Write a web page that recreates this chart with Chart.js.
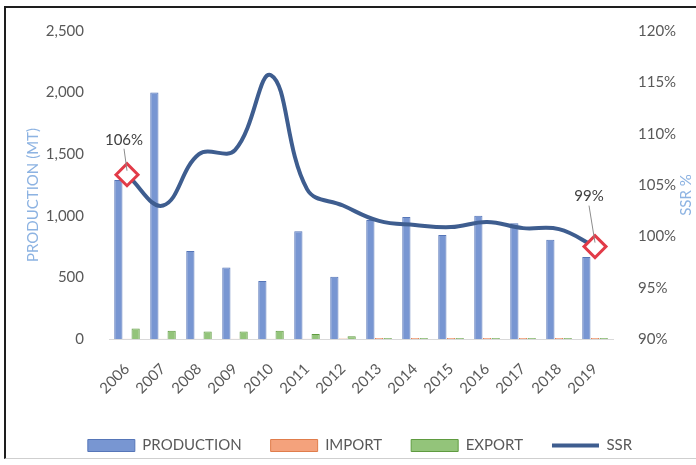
<!DOCTYPE html>
<html>
<head>
<meta charset="utf-8">
<script src="https://cdn.jsdelivr.net/npm/chart.js@4.4.1/dist/chart.umd.min.js"></script>
<style>
  html, body { margin: 0; padding: 0; background: #fff; }
  #wrap { position: relative; width: 696px; height: 465px; }
  #frame {
    position: absolute; left: 4px; top: 6px; width: 700px; height: 453px;
    box-sizing: border-box; pointer-events: none;
    border-left: 2px solid #1e1e1e; border-top: 2px solid #1e1e1e;
    border-bottom: 1px solid #cfcfcf;
  }
</style>
</head>
<body>
<div id="wrap">
  <canvas id="chart" width="696" height="465"></canvas>
  <div id="frame"></div>
</div>
<script>
// Yearly figures
const years = ['2006', '2007', '2008', '2009', '2010', '2011', '2012',
               '2013', '2014', '2015', '2016', '2017', '2018', '2019'];
const production = [1290, 2000, 715, 580, 470, 875, 505, 965, 990, 845, 1000, 940, 805, 665];
const imports    = [3, 3, 3, 3, 3, 3, 4, 8, 8, 8, 8, 8, 8, 8];
const exportsMT  = [85, 67, 60, 60, 67, 40, 22, 8, 8, 8, 8, 8, 8, 8];
const ssr        = [106, 103, 108, 108.4, 115.7, 104.6, 103, 101.5, 101.1, 100.9, 101.4, 100.8, 100.7, 99];

// Axis ranges
const productionAxis = { min: 0, max: 2500, step: 500 };
const ssrAxis = { min: 90, max: 120, step: 5 };

// Axis titles
const leftTitle = 'PRODUCTION (MT)';
const rightTitle = 'SSR %';

// Points of the SSR line that carry a value label
const labelledPoints = [0, ssr.length - 1];

const FONT = "Lato, 'Liberation Sans', Arial, sans-serif";
const TEXT = '#595959';
const TITLE_BLUE = '#8db3e2';
const LINE_BLUE = '#3e5d8f';

// Label placement relative to its point: [dx, dy]
const labelOffsets = { 0: [-3, -35], 13: [-6, -50] };

const axisTitlePlugin = {
  id: 'axisTitles',
  afterDraw(chart) {
    const ctx = chart.ctx;
    ctx.save();
    ctx.font = '15px ' + FONT;
    ctx.fillStyle = TITLE_BLUE;
    ctx.textAlign = 'center';
    ctx.textBaseline = 'middle';
    [[33, 195, leftTitle], [686, 195, rightTitle]].forEach(([x, y, t]) => {
      ctx.save();
      ctx.translate(x, y);
      ctx.rotate(-Math.PI / 2);
      ctx.fillText(t, 0, 0);
      ctx.restore();
    });
    ctx.restore();
  }
};

const pointLabelPlugin = {
  id: 'pointLabels',
  afterDatasetsDraw(chart) {
    const idx = chart.data.datasets.findIndex(d => d.type === 'line');
    const meta = chart.getDatasetMeta(idx);
    const ctx = chart.ctx;
    ctx.save();
    labelledPoints.forEach(i => {
      const pt = meta.data[i];
      const [dx, dy] = labelOffsets[i];
      const lx = pt.x + dx, ly = pt.y + dy;
      ctx.strokeStyle = '#8c8c8c';
      ctx.lineWidth = 1;
      ctx.beginPath();
      ctx.moveTo(lx, ly + 9);
      ctx.lineTo(pt.x, pt.y - 4);
      ctx.stroke();
      ctx.font = '15px ' + FONT;
      ctx.fillStyle = '#404040';
      ctx.textAlign = 'center';
      ctx.textBaseline = 'middle';
      ctx.fillText(Math.round(ssr[i]) + '%', lx, ly);
    });
    ctx.restore();
  }
};

new Chart(document.getElementById('chart'), {
  type: 'bar',
  data: {
    labels: years,
    datasets: [
      {
        label: 'PRODUCTION', data: production, yAxisID: 'y', order: 1,
        backgroundColor: '#7896d2', borderColor: '#5676b8', borderWidth: 1,
        categoryPercentage: 0.72, barPercentage: 0.95
      },
      {
        label: 'IMPORT', data: imports, yAxisID: 'y', order: 1,
        backgroundColor: '#f4a27c', borderColor: '#e07d4c', borderWidth: 1,
        categoryPercentage: 0.72, barPercentage: 0.95
      },
      {
        label: 'EXPORT', data: exportsMT, yAxisID: 'y', order: 1,
        backgroundColor: '#93c47a', borderColor: '#5f9b40', borderWidth: 1,
        categoryPercentage: 0.72, barPercentage: 0.95
      },
      {
        type: 'line', label: 'SSR', data: ssr, yAxisID: 'y1', order: 0,
        borderColor: LINE_BLUE, borderWidth: 4, tension: 0.4, fill: false,
        pointStyle: 'rectRot',
        pointRadius: ssr.map((v, i) => labelledPoints.includes(i) ? 11 : 0),
        pointHoverRadius: 0,
        pointBackgroundColor: '#ffffff', pointBorderColor: '#e23b48', pointBorderWidth: 3
      }
    ]
  },
  options: {
    responsive: false,
    devicePixelRatio: 1,
    animation: false,
    layout: { padding: { top: 31, left: 24, right: 0, bottom: 2 } },
    plugins: {
      tooltip: { enabled: false },
      legend: {
        position: 'bottom',
        labels: {
          usePointStyle: true, pointStyleWidth: 47, boxHeight: 12,
          padding: 29, color: TEXT, font: { family: FONT, size: 15 },
          sort: (a, b) => a.datasetIndex - b.datasetIndex,
          generateLabels(chart) {
            const items = Chart.defaults.plugins.legend.labels.generateLabels(chart);
            items.forEach(it => {
              const ds = chart.data.datasets[it.datasetIndex];
              if (ds.type === 'line') {
                it.pointStyle = 'line';
                it.strokeStyle = ds.borderColor;
                it.lineWidth = 4;
              } else {
                it.pointStyle = 'rect';
                it.fillStyle = ds.backgroundColor;
                it.strokeStyle = ds.borderColor;
                it.lineWidth = 1;
              }
            });
            return items;
          }
        }
      }
    },
    scales: {
      x: {
        grid: { display: false },
        border: { display: true, color: '#d9d9d9' },
        ticks: {
          color: TEXT, font: { family: FONT, size: 15 },
          minRotation: 45, maxRotation: 45, padding: 13, autoSkip: false
        },
        afterFit(scale) {
          const lg = scale.chart.legend;
          scale.height = 465 - 339 - 2 - (lg ? lg.height : 45);
        }
      },
      y: {
        position: 'left',
        min: productionAxis.min, max: productionAxis.max,
        grid: { display: false }, border: { display: false },
        ticks: {
          stepSize: productionAxis.step, padding: 17,
          color: TEXT, font: { family: FONT, size: 15 },
          callback: v => v.toLocaleString('en-US')
        },
        afterFit(scale) { scale.width = 85; }
      },
      y1: {
        position: 'right',
        min: ssrAxis.min, max: ssrAxis.max,
        grid: { display: false }, border: { display: false },
        ticks: {
          stepSize: ssrAxis.step, padding: 17,
          color: TEXT, font: { family: FONT, size: 15 },
          callback: v => v + '%'
        },
        afterFit(scale) { scale.width = 83; }
      }
    }
  },
  plugins: [axisTitlePlugin, pointLabelPlugin]
});
</script>
</body>
</html>
